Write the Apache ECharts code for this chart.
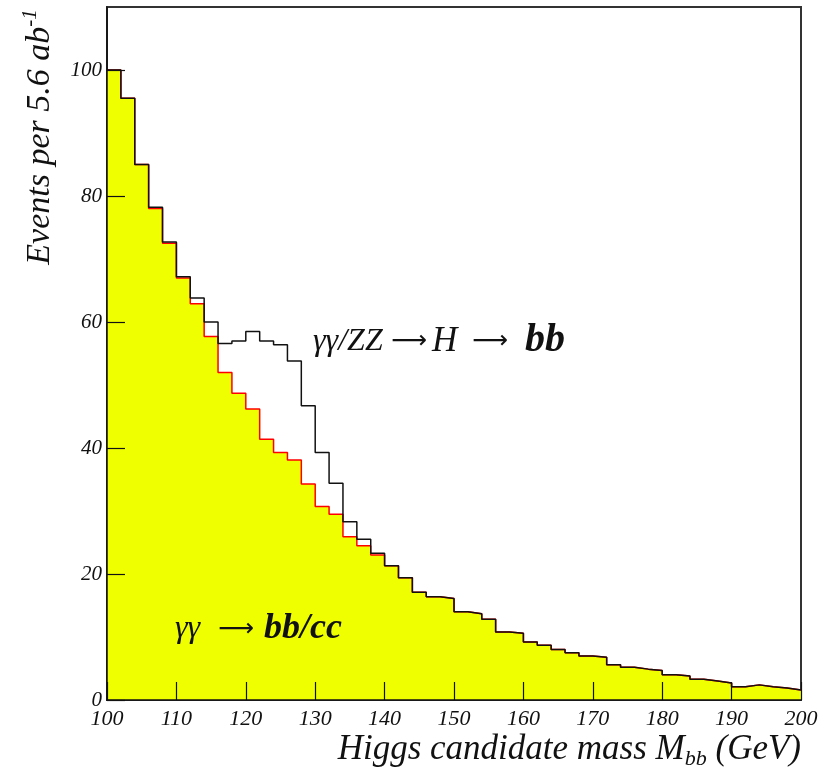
<!DOCTYPE html>
<html>
<head>
<meta charset="utf-8">
<script src="https://cdn.jsdelivr.net/npm/echarts@6/dist/echarts.min.js"></script>
<style>
  html, body { margin: 0; padding: 0; background: #fff; }
  #main { width: 833px; height: 776px; }
</style>
</head>
<body>
<div id="main"></div>
<script>
var chart = echarts.init(document.getElementById('main'));

// bins: 2 GeV wide, from 100 to 200 GeV
var binLow = 100;
var binWidth = 2;

// total (signal + background), black outline
var totalCounts = [100, 95.5, 85.0, 78.2, 72.7, 67.2, 63.8, 60.0, 56.6, 57.0,
                   58.5, 57.0, 56.4, 53.8, 46.7, 39.3, 34.4, 28.3, 25.5, 23.3,
                   21.3, 19.4, 17.1, 16.4, 16.1, 14.0, 13.7, 12.8, 10.8, 10.6,
                   9.2, 8.7, 8.0, 7.5, 7.0, 6.8, 5.6, 5.2, 4.9, 4.7,
                   4.0, 3.8, 3.3, 3.0, 2.7, 2.1, 2.4, 2.1, 1.9, 1.6];

// gamma gamma -> bb/cc background, yellow with red outline
var bgCounts = [100, 95.5, 85.0, 78.0, 72.5, 67.0, 62.9, 57.7, 52.0, 48.7,
                46.2, 41.4, 39.3, 38.1, 34.3, 30.7, 29.5, 25.9, 24.5, 23.0,
                21.3, 19.4, 17.1, 16.4, 16.1, 14.0, 13.7, 12.8, 10.8, 10.6,
                9.2, 8.7, 8.0, 7.5, 7.0, 6.8, 5.6, 5.2, 4.9, 4.7,
                4.0, 3.8, 3.3, 3.0, 2.7, 2.1, 2.4, 2.1, 1.9, 1.6];

var xTicks = [100, 110, 120, 130, 140, 150, 160, 170, 180, 190, 200];
var yTicks = [0, 20, 40, 60, 80, 100];

// step points at bin left edges, last bin closed at its right edge
function histPoints(counts) {
    var pts = [];
    for (var i = 0; i < counts.length; i++) {
        pts.push([binLow + i * binWidth, counts[i]]);
    }
    pts.push([binLow + counts.length * binWidth, counts[counts.length - 1]]);
    return pts;
}

var serif = '"Liberation Serif", "DejaVu Serif", serif';
var arrowFont = '"DejaVu Sans", sans-serif';

function label(x, y, txt, size, bold) {
    return {
        type: 'text',
        left: x,
        top: y,
        z: 10,
        style: {
            text: txt,
            fill: '#111',
            font: 'italic ' + (bold ? 'bold ' : '') + size + 'px ' + serif
        }
    };
}

function arrow(x, y) {
    return {
        type: 'text',
        left: x,
        top: y,
        z: 10,
        style: { text: '⟶', fill: '#111', font: '25px ' + arrowFont }
    };
}

option = {
    animation: false,
    backgroundColor: '#fff',
    grid: {
        left: 107,
        right: 32,
        top: 7,
        bottom: 76,
        show: true,
        borderColor: '#333',
        borderWidth: 2,
        backgroundColor: 'transparent'
    },
    xAxis: {
        type: 'value',
        z: 5,
        min: xTicks[0],
        max: xTicks[xTicks.length - 1],
        interval: 10,
        axisLine: { lineStyle: { color: '#111', width: 1.5 } },
        axisTick: { inside: true, length: 18, lineStyle: { color: '#111', width: 1.2 } },
        axisLabel: {
            color: '#111',
            fontFamily: serif,
            fontStyle: 'italic',
            fontSize: 22,
            margin: 8
        },
        splitLine: { show: false }
    },
    yAxis: {
        type: 'value',
        z: 5,
        min: 0,
        max: 110,
        interval: 20,
        axisLine: { show: true, lineStyle: { color: '#111', width: 1.5 } },
        axisTick: { inside: true, length: 18, lineStyle: { color: '#111', width: 1.2 } },
        axisLabel: {
            color: '#111',
            fontFamily: serif,
            fontStyle: 'italic',
            fontSize: 21,
            margin: 5,
            showMaxLabel: false,
            formatter: function (v) { return yTicks.indexOf(v) >= 0 ? String(v) : ''; }
        },
        splitLine: { show: false }
    },
    series: [
        {
            name: 'background',
            type: 'line',
            step: 'end',
            symbol: 'none',
            z: 2,
            lineStyle: { color: '#ff0000', width: 1.5 },
            areaStyle: { color: '#f0ff00', opacity: 1 },
            data: histPoints(bgCounts)
        },
        {
            name: 'total',
            type: 'line',
            step: 'end',
            symbol: 'none',
            z: 3,
            lineStyle: { color: '#111', width: 1.5 },
            data: histPoints(totalCounts)
        }
    ],
    graphic: [
        {
            type: 'text',
            x: 40,
            y: 137,
            rotation: Math.PI / 2,
            z: 10,
            style: {
                text: '{a|Events per 5.6 ab}{s|-1}',
                align: 'center',
                verticalAlign: 'middle',
                rich: {
                    a: { fontFamily: serif, fontStyle: 'italic', fontSize: 34, fill: '#111' },
                    s: { fontFamily: serif, fontStyle: 'italic', fontSize: 21, fill: '#111', padding: [0, 0, 20, 0] }
                }
            }
        },
        {
            type: 'text',
            right: 32,
            top: 732,
            z: 10,
            style: {
                text: '{a|Higgs candidate mass M}{s|bb}{a| (GeV)}',
                rich: {
                    a: { fontFamily: serif, fontStyle: 'italic', fontSize: 35, fill: '#111' },
                    s: { fontFamily: serif, fontStyle: 'italic', fontSize: 22, fill: '#111', padding: [20, 0, 0, 0] }
                }
            }
        },
        // gamma gamma / ZZ -> H -> bb
        label(313, 326, 'γγ/ZZ', 32, false),
        arrow(391, 329),
        label(432, 324, 'H', 35, false),
        arrow(472, 329),
        label(525, 321, 'bb', 40, true),
        // gamma gamma -> bb/cc
        label(175, 613, 'γγ', 32, false),
        arrow(218, 617),
        label(264, 611, 'bb/cc', 36, true)
    ]
};

chart.setOption(option);
</script>
</body>
</html>
